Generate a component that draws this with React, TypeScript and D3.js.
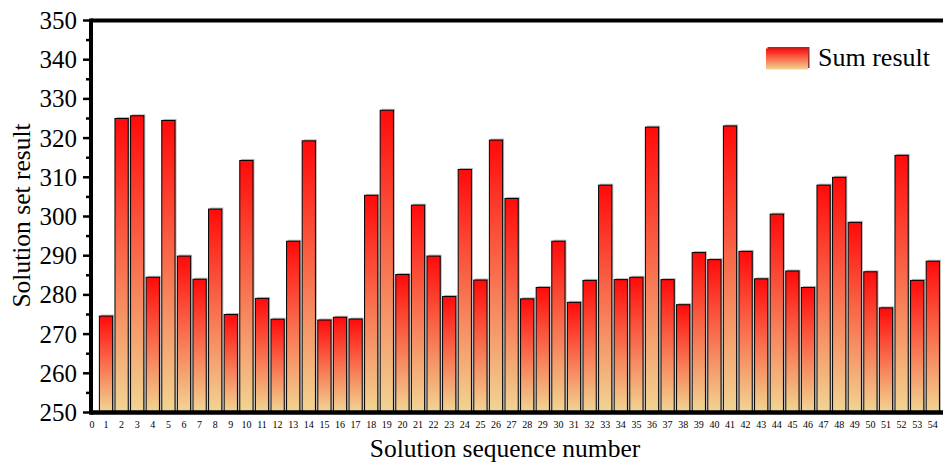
import { useEffect, useRef } from 'react'
import * as d3 from 'd3'

const sequenceLabels = [
  0, 1, 2, 3, 4, 5, 6, 7, 8, 9, 10, 11, 12, 13, 14, 15, 16, 17, 18, 19, 20, 21, 22, 23, 24, 25, 26, 27,
  28, 29, 30, 31, 32, 33, 34, 35, 36, 37, 38, 39, 40, 41, 42, 43, 44, 45, 46, 47, 48, 49, 50, 51, 52, 53, 54,
]

const solutionIds = [
  1, 2, 3, 4, 5, 6, 7, 8, 9, 10, 11, 12, 13, 14, 15, 16, 17, 18, 19, 20, 21, 22, 23, 24, 25, 26, 27,
  28, 29, 30, 31, 32, 33, 34, 35, 36, 37, 38, 39, 40, 41, 42, 43, 44, 45, 46, 47, 48, 49, 50, 51, 52, 53, 54,
]

const sumResults = [
  274.6, 325.0, 325.7, 284.5, 324.5, 289.9, 284.0, 301.9, 275.0, 314.3, 279.1, 273.8, 293.7, 319.3,
  273.6, 274.3, 273.85, 305.4, 327.1, 285.2, 302.9, 289.9, 279.6, 312.0, 283.8, 319.5, 304.6, 279.0,
  281.9, 293.7, 278.1, 283.7, 308.0, 283.9, 284.5, 322.8, 283.9, 277.5, 290.8, 289.0, 323.1, 291.1,
  284.1, 300.6, 286.1, 281.9, 308.0, 310.0, 298.5, 285.9, 276.7, 315.6, 283.7, 288.6,
]

const yTicks = [250, 260, 270, 280, 290, 300, 310, 320, 330, 340, 350]
const yMinorTicks = [255, 265, 275, 285, 295, 305, 315, 325, 335, 345]

const W = 943
const H = 463
const FONT = '"Liberation Serif", "Times New Roman", serif'

export default function App() {
  const svgRef = useRef<SVGSVGElement>(null)

  useEffect(() => {
    if (!svgRef.current) return
    const root = d3.select(svgRef.current)
    root.selectAll('*').remove()

    const left = 91
    const top = 20.5
    const bottom = 412.5

    const x = d3.scaleLinear().domain([0, 54]).range([90.4, 932.8])
    const y = d3.scaleLinear().domain([250, 350]).range([bottom, top])
    const barW = (x(1) - x(0)) * 0.85

    // dégradé par barre (rouge en haut, jaune pâle en bas)
    const defs = root.append('defs')
    const grad = defs
      .append('linearGradient')
      .attr('id', 'barGrad')
      .attr('x1', 0)
      .attr('y1', 0)
      .attr('x2', 0)
      .attr('y2', 1)
    grad.append('stop').attr('offset', '0%').attr('stop-color', '#ff0a0a')
    grad.append('stop').attr('offset', '100%').attr('stop-color', '#f1d693')

    const data = solutionIds.map((id, i) => ({ id, value: sumResults[i] }))

    // ombres
    root
      .append('g')
      .selectAll('rect')
      .data(data)
      .join('rect')
      .attr('x', (d) => x(d.id) - barW / 2 + 1.5)
      .attr('y', (d) => y(d.value) - 1.5)
      .attr('width', barW)
      .attr('height', (d) => bottom - y(d.value))
      .attr('fill', '#9a9a9a')
      .attr('opacity', 0.7)

    // barres
    root
      .append('g')
      .selectAll('rect')
      .data(data)
      .join('rect')
      .attr('x', (d) => x(d.id) - barW / 2)
      .attr('y', (d) => y(d.value))
      .attr('width', barW)
      .attr('height', (d) => bottom - y(d.value))
      .attr('fill', 'url(#barGrad)')
      .attr('stroke', '#000')
      .attr('stroke-width', 1)

    // cadre haut + axes
    root
      .append('line')
      .attr('x1', left)
      .attr('x2', W)
      .attr('y1', top)
      .attr('y2', top)
      .attr('stroke', '#000')
      .attr('stroke-width', 4)

    root
      .append('line')
      .attr('x1', left)
      .attr('x2', W)
      .attr('y1', bottom)
      .attr('y2', bottom)
      .attr('stroke', '#000')
      .attr('stroke-width', 4.5)

    root
      .append('line')
      .attr('x1', left)
      .attr('x2', left)
      .attr('y1', top - 2)
      .attr('y2', bottom + 2.25)
      .attr('stroke', '#000')
      .attr('stroke-width', 4)

    // graduations Y
    root
      .append('g')
      .selectAll('line')
      .data(yTicks)
      .join('line')
      .attr('x1', left - 8)
      .attr('x2', left)
      .attr('y1', (d) => y(d))
      .attr('y2', (d) => y(d))
      .attr('stroke', '#000')
      .attr('stroke-width', 2.5)

    root
      .append('g')
      .selectAll('line')
      .data(yMinorTicks)
      .join('line')
      .attr('x1', left - 5)
      .attr('x2', left)
      .attr('y1', (d) => y(d))
      .attr('y2', (d) => y(d))
      .attr('stroke', '#000')
      .attr('stroke-width', 2.5)

    root
      .append('g')
      .selectAll('text')
      .data(yTicks)
      .join('text')
      .attr('x', 77)
      .attr('y', (d) => y(d))
      .attr('dy', '0.34em')
      .attr('text-anchor', 'end')
      .attr('font-family', FONT)
      .attr('font-size', 25)
      .attr('fill', '#000')
      .text((d) => d)

    // étiquettes X
    root
      .append('g')
      .selectAll('text')
      .data(sequenceLabels)
      .join('text')
      .attr('x', (d) => x(d) + (d === 0 ? 1.5 : 0))
      .attr('y', 428)
      .attr('text-anchor', 'middle')
      .attr('font-family', FONT)
      .attr('font-size', 10)
      .attr('fill', '#000')
      .text((d) => d)

    // titres des axes
    root
      .append('text')
      .attr('x', 505)
      .attr('y', 456.5)
      .attr('text-anchor', 'middle')
      .attr('font-family', FONT)
      .attr('font-size', 25.5)
      .attr('fill', '#000')
      .text('Solution sequence number')

    root
      .append('text')
      .attr('transform', `translate(30,215.5) rotate(-90)`)
      .attr('text-anchor', 'middle')
      .attr('font-family', FONT)
      .attr('font-size', 25.5)
      .attr('fill', '#000')
      .text('Solution set result')

    // légende
    const legend = root.append('g')
    legend
      .append('rect')
      .attr('x', 767.5)
      .attr('y', 47)
      .attr('width', 42)
      .attr('height', 21)
      .attr('fill', '#7a0000')
      .attr('opacity', 0.8)
    legend
      .append('rect')
      .attr('x', 766)
      .attr('y', 48.5)
      .attr('width', 42)
      .attr('height', 21)
      .attr('fill', 'url(#barGrad)')
    legend
      .append('text')
      .attr('x', 818)
      .attr('y', 66)
      .attr('font-family', FONT)
      .attr('font-size', 26)
      .attr('fill', '#000')
      .text('Sum result')
  }, [])

  return (
    <svg
      ref={svgRef}
      width={W}
      height={H}
      style={{ position: 'absolute', left: 0, top: 0, background: '#fff', display: 'block' }}
    />
  )
}
